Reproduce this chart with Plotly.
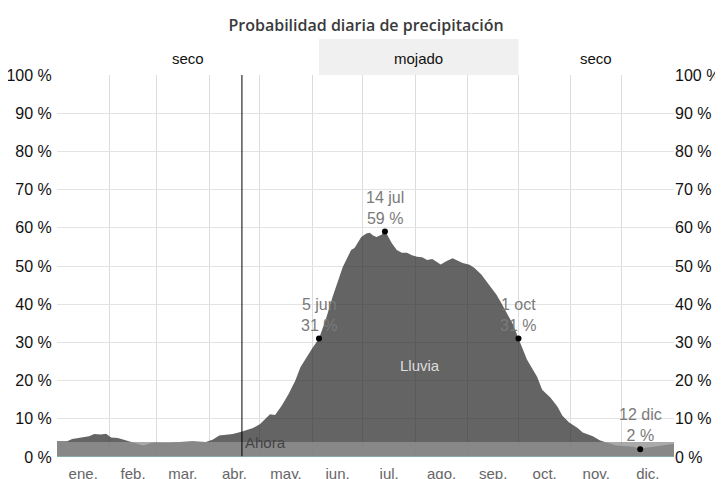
import plotly.graph_objects as go

# ---------------- data ----------------
DAYS = [0, 6, 9, 14, 19, 22, 26, 29, 32, 36, 41, 45, 48, 51, 54, 57, 65, 73, 80, 88,
        92, 96, 104, 109, 116, 120, 123, 126, 129, 133, 137, 141, 144, 148, 151, 155,
        159, 163, 169, 174, 176, 180, 183, 185, 187, 189, 192, 194, 198, 201, 204, 207,
        210, 213, 216, 219, 222, 227, 230, 234, 237, 240, 244, 247, 251, 254, 257, 260,
        263, 266, 270, 273, 278, 284, 287, 292, 296, 299, 303, 308, 311, 317, 321, 325,
        331, 337, 341, 345, 348, 353, 358, 365]
RAIN = [4.1, 4.1, 4.7, 5.0, 5.4, 6.0, 5.9, 6.1, 5.1, 5.0, 4.3, 3.7, 3.4, 3.0, 3.5, 3.8,
        3.7, 3.9, 4.1, 3.9, 4.5, 5.6, 6.0, 6.6, 7.6, 8.6, 10.0, 11.2, 11.0, 13.5, 16.5,
        20.0, 23.5, 26.5, 28.5, 31.0, 36.0, 41.9, 49.7, 54.2, 54.7, 57.6, 58.5, 58.7,
        58.0, 57.6, 58.2, 59.2, 56.0, 54.2, 53.5, 53.5, 52.8, 52.4, 52.3, 51.6, 51.8,
        50.4, 51.2, 52.0, 51.3, 50.8, 50.3, 49.5, 47.8, 46.0, 44.5, 42.5, 40.2, 37.7,
        34.5, 31.0, 25.5, 21.0, 17.6, 15.5, 13.2, 10.8, 9.0, 7.6, 6.4, 5.4, 4.4, 3.8,
        3.0, 2.8, 2.7, 2.0, 2.4, 2.7, 3.0, 3.5]

MONTHS = ["ene.", "feb.", "mar.", "abr.", "may.", "jun.", "jul.", "ago.", "sep.",
          "oct.", "nov.", "dic."]
MONTH_START = [0, 31, 59, 90, 120, 151, 181, 212, 243, 273, 304, 334, 365]

ANNOT_DAYS = [155, 194, 273, 345]
ANNOT_VALS = [31, 59, 31, 2]
ANNOT_TEXT = ["5 jun", "14 jul", "1 oct", "12 dic"]

SEASON_NAMES = ["seco", "mojado", "seco"]
SEASON_START = [0, 155, 273]
SEASON_END = [155, 273, 365]

AHORA_DAY = 109.4
BAND_TOP = 3.9
Y_TICKS = list(range(0, 101, 10))
Y_TICKTEXT = [f"{v} %" for v in Y_TICKS]

# ---------------- figure ----------------
fig = go.Figure()

fig.add_trace(go.Scatter(x=DAYS, y=RAIN, mode="lines", line=dict(width=0),
                         fill="tozeroy", fillcolor="rgba(34,34,34,0.70)",
                         hoverinfo="skip", showlegend=False))
fig.add_trace(go.Scatter(x=[MONTH_START[0], MONTH_START[-1]], y=[BAND_TOP, BAND_TOP],
                         mode="lines", line=dict(width=0), fill="tozeroy",
                         fillcolor="rgba(146,146,146,0.78)", hoverinfo="skip",
                         showlegend=False))
fig.add_trace(go.Scatter(x=ANNOT_DAYS, y=ANNOT_VALS, mode="markers",
                         marker=dict(color="black", size=6), hoverinfo="skip",
                         showlegend=False))
fig.add_trace(go.Scatter(x=[MONTH_START[0]], y=[0], yaxis="y2", mode="markers",
                         marker=dict(opacity=0), hoverinfo="skip", showlegend=False))

mid = [(MONTH_START[i] + MONTH_START[i + 1]) / 2 for i in range(12)]

fig.update_layout(
    width=723, height=479,
    margin=dict(l=49, r=57, t=67, b=29.5, autoexpand=False),
    paper_bgcolor="white", plot_bgcolor="white",
    font=dict(family="Liberation Sans, Arial, sans-serif"),
    title=dict(text="Probabilidad diaria de precipitación", x=0.4952, xanchor="center",
               y=0.9645, yanchor="middle",
               font=dict(family="Open Sans", size=16, color="#3a3a3a", weight=600)),
    xaxis=dict(range=[MONTH_START[0], MONTH_START[-1]], tickmode="array", tickvals=mid,
               ticktext=MONTHS, showgrid=False, zeroline=False, showline=False,
               automargin=False,
               ticks="outside", ticklen=3, tickcolor="rgba(0,0,0,0)",
               tickfont=dict(size=15, color="#666666"),
               minor=dict(tickmode="array", tickvals=MONTH_START[1:-1], showgrid=True,
                          gridcolor="#dcdcdc", gridwidth=1, ticks=""),
               fixedrange=True),
    yaxis=dict(range=[0, 100], tickmode="array", tickvals=Y_TICKS, ticktext=Y_TICKTEXT,
               showgrid=True, gridcolor="#e3e3e3", gridwidth=1, zeroline=False,
               automargin=False,
               showline=False, ticks="outside", ticklen=1, tickcolor="rgba(0,0,0,0)",
               tickfont=dict(size=16, color="#111111"), fixedrange=True),
    yaxis2=dict(range=[0, 100], overlaying="y", side="right", tickmode="array",
                tickvals=Y_TICKS, ticktext=Y_TICKTEXT, showgrid=False, zeroline=False,
                automargin=False,
                showline=False, ticks="", tickfont=dict(size=16, color="#111111"),
                fixedrange=True),
)

shapes = []
for name, s, e in zip(SEASON_NAMES, SEASON_START, SEASON_END):
    if name == "mojado":
        shapes.append(dict(type="rect", xref="x", yref="paper", x0=s, x1=e,
                           y0=1, y1=1.094, fillcolor="#f0f0f0", line=dict(width=0),
                           layer="below"))
shapes.append(dict(type="line", xref="x", yref="paper", x0=AHORA_DAY, x1=AHORA_DAY,
                   y0=0, y1=1, line=dict(color="black", width=1), layer="above"))
shapes.append(dict(type="line", xref="paper", yref="y", x0=0, x1=1, y0=0, y1=0,
                   line=dict(color="#86b9b3", width=1.5), layer="above"))
fig.update_layout(shapes=shapes)

annotations = []
for name, s, e in zip(SEASON_NAMES, SEASON_START, SEASON_END):
    annotations.append(dict(x=(s + e) / 2, y=1, xref="x", yref="paper", text=name,
                            showarrow=False, yshift=17, yanchor="middle",
                            font=dict(size=15, color="#111111")))
for d, v, t in zip(ANNOT_DAYS, ANNOT_VALS, ANNOT_TEXT):
    annotations.append(dict(x=d, y=v, xref="x", yref="y", text=f"{t}<br>{v} %",
                            showarrow=False, yanchor="bottom", yshift=3,
                            font=dict(size=16, color="#7a7a7a")))
annotations.append(dict(x=AHORA_DAY, y=BAND_TOP, xref="x", yref="y", text="Ahora",
                        showarrow=False, xanchor="left", yanchor="middle", xshift=1,
                        font=dict(size=15, color="#444444")))
annotations.append(dict(x=(MONTH_START[7] + 2.5), y=24, xref="x", yref="y", text="Lluvia",
                        showarrow=False, font=dict(size=15, color="#dddddd")))
fig.update_layout(annotations=annotations)

fig.write_html("out.html")
